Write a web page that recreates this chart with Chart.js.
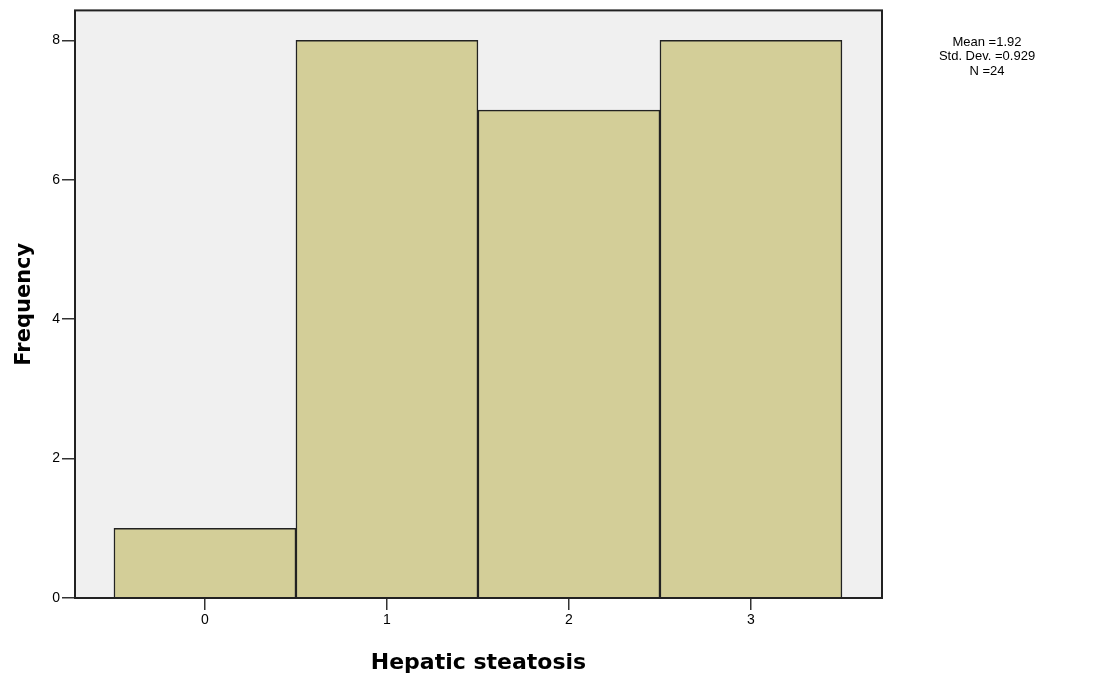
<!DOCTYPE html>
<html lang="en">
<head>
  <meta charset="UTF-8">
  <title>Hepatic steatosis</title>
  <script src="https://cdn.jsdelivr.net/npm/chart.js"></script>
  <style>
    html, body { margin: 0; padding: 0; background: #fff; }
    #chart-container { width: 1115px; height: 680px; }
  </style>
</head>
<body>
  <div id="chart-container">
    <canvas id="histogram" width="1115" height="680"></canvas>
  </div>
  <script>
    // Data
    const scores = [0, 1, 2, 3];
    const frequency = [1, 8, 7, 8];
    const yTicks = [0, 2, 4, 6, 8];
    const statsLines = ['Mean =1.92', 'Std. Dev. =0.929', 'N =24'];

    // grey plot background plus frame, and the stats box on the right
    const framePlugin = {
      id: 'framePlugin',
      beforeDatasetsDraw(chart) {
        const { ctx, chartArea: { left, top, width, height } } = chart;
        ctx.save();
        ctx.fillStyle = '#f0f0f0';
        ctx.fillRect(left, top, width, height);
        ctx.restore();
      },
      afterDraw(chart) {
        const { ctx, chartArea: { left, top, width, height } } = chart;
        ctx.save();
        ctx.strokeStyle = '#222';
        ctx.lineWidth = 2;
        ctx.strokeRect(left, top, width, height);
        ctx.fillStyle = '#000';
        ctx.font = '13px "Liberation Sans", Arial, sans-serif';
        ctx.textAlign = 'center';
        ctx.textBaseline = 'middle';
        statsLines.forEach((t, i) => ctx.fillText(t, 987, 42 + i * 14.5));
        ctx.restore();
      }
    };

    const ctx = document.getElementById('histogram').getContext('2d');
    new Chart(ctx, {
      type: 'bar',
      data: {
        datasets: [{
          data: scores.map((s, i) => ({ x: s, y: frequency[i] })),
          backgroundColor: '#d3ce98',
          borderColor: '#222',
          borderWidth: 1.5,
          barPercentage: 1,
          categoryPercentage: 1
        }]
      },
      options: {
        responsive: false,
        animation: false,
        layout: { padding: { left: 0, right: 233, top: 10, bottom: 0 } },
        plugins: {
          legend: { display: false },
          tooltip: { enabled: false }
        },
        scales: {
          x: {
            type: 'linear',
            min: -0.714,
            max: 3.72,
            offset: false,
            afterFit(scale) { scale.height = 82; },
            afterBuildTicks(scale) { scale.ticks = scores.map(v => ({ value: v })); },
            grid: { display: true, offset: false, drawOnChartArea: false, drawTicks: true, tickLength: 12, color: '#333', lineWidth: 1.5 },
            border: { display: false },
            ticks: {
              color: '#000',
              padding: 2,
              font: { family: '"Liberation Sans", Arial, sans-serif', size: 14 }
            },
            title: {
              display: true,
              text: 'Hepatic steatosis',
              color: '#000',
              padding: { top: 0, bottom: 4 },
              font: { family: '"DejaVu Sans", Verdana, sans-serif', size: 22, weight: 'bold' }
            }
          },
          y: {
            min: 0,
            max: 8.43,
            afterFit(scale) { scale.width = 75; },
            afterBuildTicks(scale) { scale.ticks = yTicks.map(v => ({ value: v })); },
            grid: { display: true, drawOnChartArea: false, drawTicks: true, tickLength: 13, color: '#333', lineWidth: 1.5 },
            border: { display: false },
            ticks: {
              color: '#000',
              padding: 2,
              font: { family: '"Liberation Sans", Arial, sans-serif', size: 14 }
            },
            title: {
              display: true,
              text: 'Frequency',
              color: '#000',
              padding: { top: 12, bottom: 0 },
              font: { family: '"DejaVu Sans", Verdana, sans-serif', size: 21, weight: 'bold' }
            }
          }
        }
      },
      plugins: [framePlugin]
    });
  </script>
</body>
</html>
